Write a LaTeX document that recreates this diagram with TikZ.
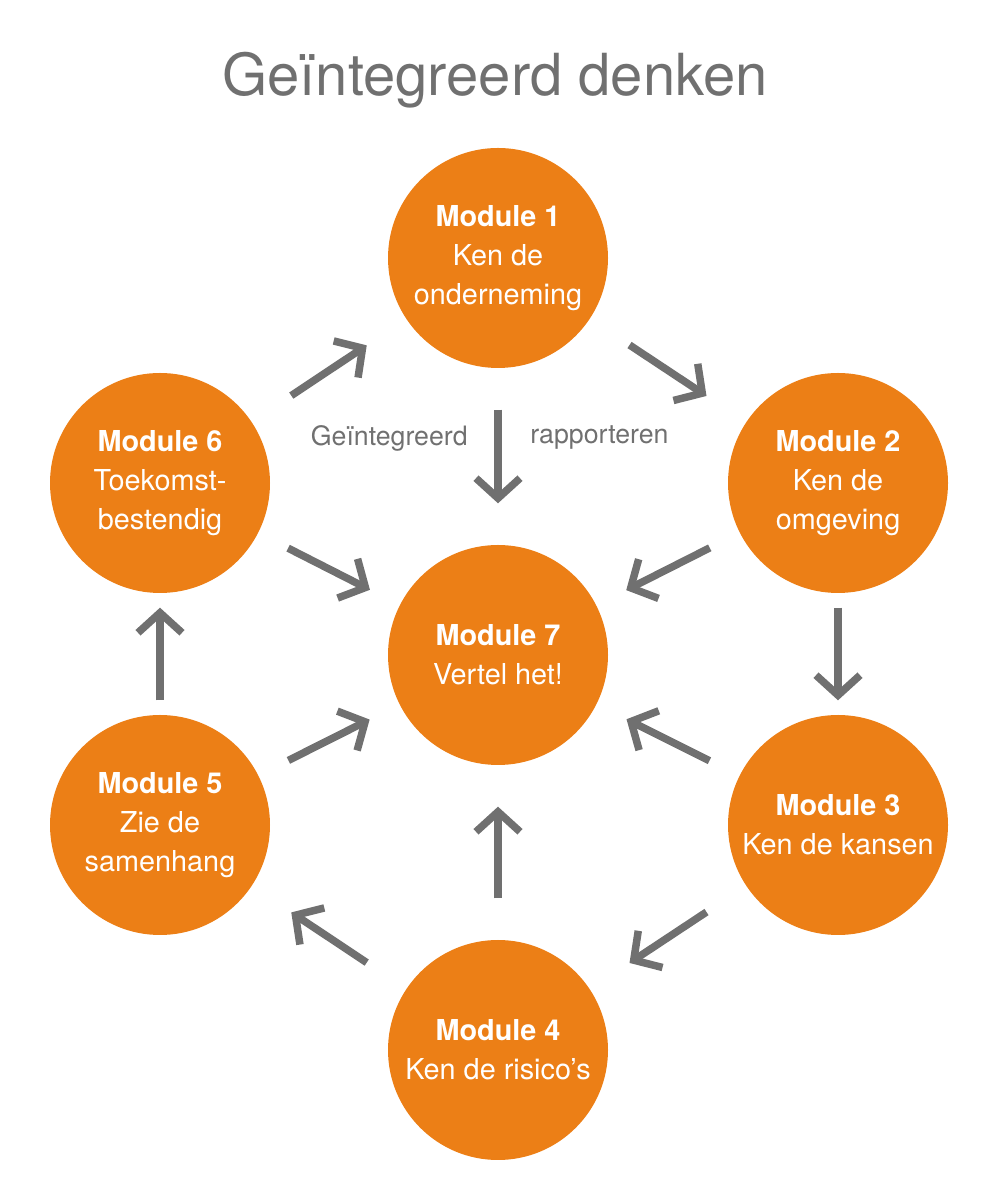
\documentclass[tikz,border=0pt]{standalone}
\usepackage{fontspec}
\setmainfont{TeX Gyre Heros}
\usetikzlibrary{arrows.meta}
\definecolor{moduleorange}{RGB}{236,127,22}
\definecolor{arrowgray}{RGB}{112,112,112}
\begin{document}
\begin{tikzpicture}[x=0.1mm, y=0.1mm,
    module/.style={circle, fill=moduleorange, minimum size=2.2cm, inner sep=0pt,
        text=white, align=center, font=\fontsize{8.2}{11}\selectfont},
    flow/.style={arrowgray, line width=0.75mm, -{Straight Barb[length=2mm, width=4.4mm]},
        shorten <=#1, shorten >=#1},
    flow/.default=0.45cm]
    \useasboundingbox (0,0) rectangle (1000,1200);

    % Titel
    \node[arrowgray, font=\fontsize{16.5}{20}\selectfont] (title) at (495,1120) {Geïntegreerd denken};

    % Modules
    \node[module] (m1) at (498,942) {\textbf{Module 1}\\Ken de\\onderneming};
    \node[module] (m2) at (838,717) {\textbf{Module 2}\\Ken de\\omgeving};
    \node[module] (m3) at (838,375) {\textbf{Module 3}\\Ken de kansen};
    \node[module] (m4) at (498,150) {\textbf{Module 4}\\Ken de risico’s};
    \node[module] (m5) at (160,375) {\textbf{Module 5}\\Zie de\\samenhang};
    \node[module] (m6) at (160,717) {\textbf{Module 6}\\Toekomst-\\bestendig};
    \node[module] (m7) at (498,545) {\textbf{Module 7}\\Vertel het!};

    % Labels
    \node[arrowgray, anchor=east, font=\fontsize{7.6}{9}\selectfont] (lleft) at (480,762) {Geïntegreerd};
    \node[arrowgray, anchor=west, font=\fontsize{7.6}{9}\selectfont] (lright) at (518,762) {rapporteren};

    % Kring
    \foreach \a/\b/\s in {m1/m2/0.47cm, m2/m3/0.14cm, m3/m4/0.47cm, m4/m5/0.47cm, m5/m6/0.14cm, m6/m1/0.47cm} {
        \draw[flow=\s] (\a) -- (\b);
    }

    % Naar het midden
    \foreach \a/\s in {m1/0.41cm, m2/0.33cm, m3/0.33cm, m4/0.41cm, m5/0.33cm, m6/0.33cm} {
        \draw[flow=\s] (\a) -- (m7);
    }
\end{tikzpicture}
\end{document}
